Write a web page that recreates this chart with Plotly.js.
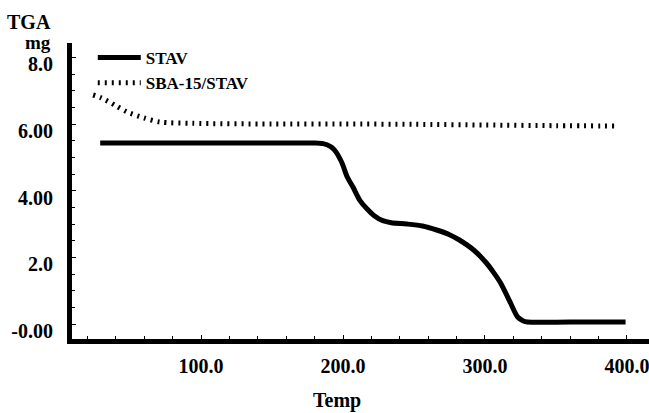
<!DOCTYPE html>
<html><head><meta charset="utf-8">
<script src="https://cdn.plot.ly/plotly-3.0.1.min.js"></script>
<style>html,body{margin:0;padding:0;background:#fff}</style>
</head><body><div id="chart" style="width:649px;height:413px"></div>
<script>
const stavTemp = [29, 60, 100, 150, 180, 186, 191, 194, 199, 203, 207, 212, 217, 222, 228, 234, 245, 256, 266, 275, 282, 292, 301, 306, 311, 318, 323, 327, 330, 360, 399];
const stavMass = [5.43, 5.43, 5.43, 5.43, 5.43, 5.41, 5.33, 5.22, 4.86, 4.41, 4.11, 3.70, 3.45, 3.25, 3.10, 3.04, 3.00, 2.94, 2.82, 2.68, 2.52, 2.22, 1.83, 1.55, 1.23, 0.63, 0.21, 0.09, 0.06, 0.06, 0.06];
const sbaTemp = [24, 30, 40, 48, 60, 71, 94, 150, 200, 250, 300, 350, 394];
const sbaMass = [6.87, 6.78, 6.55, 6.36, 6.18, 6.06, 6.02, 6.00, 6.00, 5.99, 5.97, 5.95, 5.94];
const seriesNames = ["STAV", "SBA-15/STAV"];
const xTickVals = [100, 200, 300, 400];
const xTickText = ["100.0", "200.0", "300.0", "400.0"];
const yTickVals = [0, 2, 4, 6, 8];
const yTickText = ["-0.00", "2.0", "4.00", "6.00", "8.0"];

const F = {family: "Liberation Serif, Times New Roman, serif", size: 20, color: "#000", weight: "bold"};
const FL = {family: "Liberation Serif, Times New Roman, serif", size: 17, color: "#000", weight: "bold"};
const FM = {family: "Liberation Serif, Times New Roman, serif", size: 19, color: "#000", weight: "bold"};

const traces = [
  {x: stavTemp, y: stavMass, name: seriesNames[0], type: "scatter", mode: "lines",
   line: {color: "#000", width: 5, shape: "spline", smoothing: 0.8}},
  {x: sbaTemp, y: sbaMass, name: seriesNames[1], type: "scatter", mode: "lines",
   line: {color: "#000", width: 5, dash: "2px,5px", shape: "spline", smoothing: 0.8}}
];

const layout = {
  width: 649, height: 413,
  margin: {l: 72, r: 0, t: 43, b: 74, pad: 0},
  paper_bgcolor: "#fff", plot_bgcolor: "#fff",
  font: F,
  showlegend: true,
  legend: {x: 0.036, y: 1.01, xanchor: "left", yanchor: "top", font: FL,
           bgcolor: "rgba(0,0,0,0)", itemwidth: 43, tracegroupgap: 0},
  xaxis: {range: [9.15, 415.5], showgrid: false, zeroline: false,
          showline: true, linecolor: "#000", linewidth: 5,
          tickmode: "array", tickvals: xTickVals, ticktext: xTickText,
          ticks: "inside", ticklen: 4, tickwidth: 1, tickcolor: "#000",
          minor: {dtick: 20, tick0: 0, ticks: "inside", ticklen: 3, tickwidth: 1, tickcolor: "#000", showgrid: false},
          tickfont: F, ticklabelstandoff: 5, ticklabeloverflow: "allow"},
  yaxis: {range: [-0.45, 8.43], showgrid: false, zeroline: false,
          showline: true, linecolor: "#000", linewidth: 5,
          tickmode: "array", tickvals: yTickVals, ticktext: yTickText,
          ticks: "inside", ticklen: 4, tickwidth: 1, tickcolor: "#000",
          minor: {dtick: 0.5, tick0: 0, ticks: "inside", ticklen: 3, tickwidth: 1, tickcolor: "#000", showgrid: false},
          tickfont: F, ticklabelstandoff: 10, ticklabelshift: 7},
  annotations: [
    {text: "TGA", xref: "paper", yref: "paper", x: -0.033, y: 1.07, xanchor: "right", yanchor: "middle", showarrow: false, font: F},
    {text: "mg", xref: "paper", yref: "paper", x: -0.033, y: 1.003, xanchor: "right", yanchor: "middle", showarrow: false, font: FM},
    {text: "Temp", xref: "paper", yref: "paper", x: (337 - 72) / 577, y: (339 - 400) / 296, xanchor: "center", yanchor: "middle", showarrow: false, font: F}
  ]
};

Plotly.newPlot("chart", traces, layout, {staticPlot: true, displayModeBar: false});
</script></body></html>
